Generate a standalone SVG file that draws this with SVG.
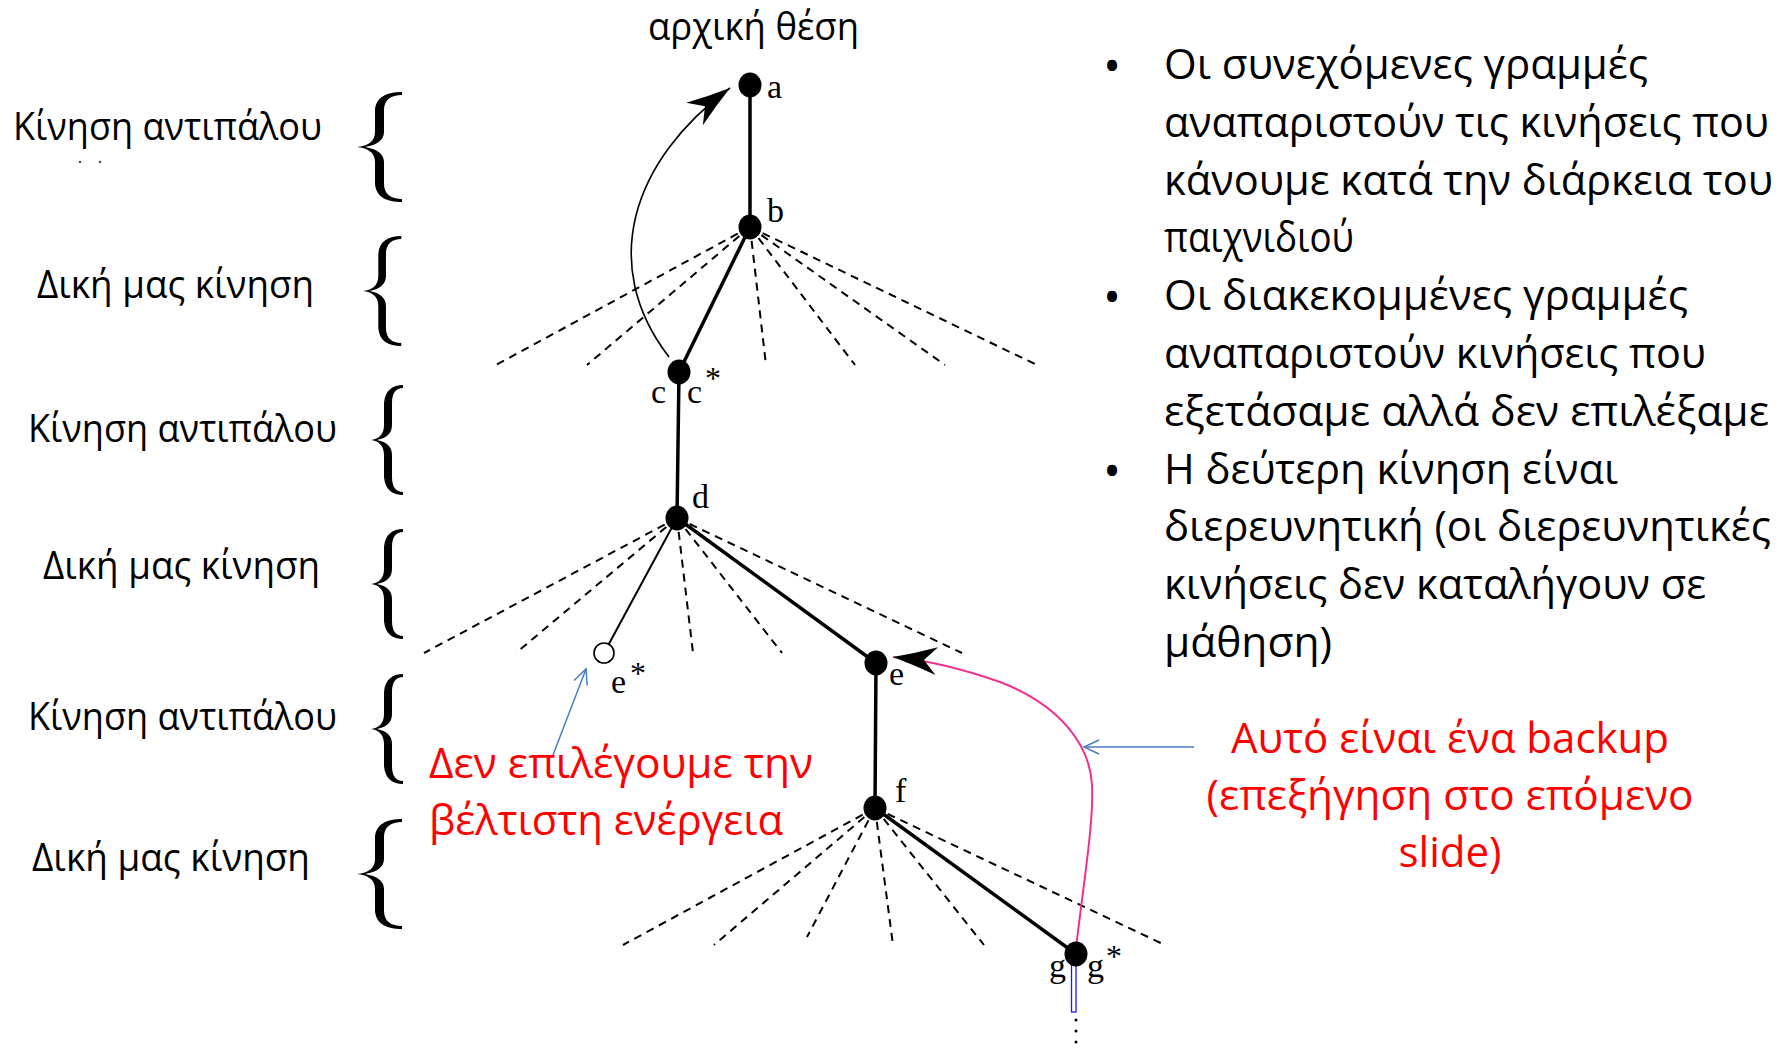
<svg xmlns="http://www.w3.org/2000/svg" xmlns:xlink="http://www.w3.org/1999/xlink" width="1779" height="1048" viewBox="0 0 1779 1048">
  <style>
    .sans { font-family: "Open Sans", "Noto Sans", "DejaVu Sans", sans-serif; fill: #000; }
    .lvl { font-size: 38px; }
    .bul { font-size: 42px; }
    .red { font-size: 42px; fill: #ff0000; }
    .nl { font-family: "Liberation Serif", "Times New Roman", serif; font-size: 34px; fill: #000; }
    .ast { font-size: 32px; }
    .edge { stroke: #000; stroke-width: 3.5; fill: none; stroke-linecap: round; }
    .edge-thin { stroke: #000; stroke-width: 2; fill: none; stroke-linecap: round; }
    .dash { stroke: #000; stroke-width: 2; fill: none; stroke-dasharray: 8 6; }
    .node { fill: #000; }
    .brace { fill: #000; }
    .note { stroke: #4a7cc0; stroke-width: 1.5; fill: none; }
  </style>
  <defs>
    <marker id="stealth" markerUnits="userSpaceOnUse" viewBox="-46 -16 48 32" markerWidth="48" markerHeight="32" refX="0" refY="0" orient="auto">
      <path d="M0,0 Q-22,-6 -44,-14 L-31,0 L-44,14 Q-22,6 0,0 Z" fill="#000"/>
    </marker>
    <marker id="open-blue" markerUnits="userSpaceOnUse" viewBox="-17 -9 19 18" markerWidth="19" markerHeight="18" refX="0" refY="0" orient="auto">
      <path d="M-15,-7 L0,0 L-15,7" fill="none" stroke="#4a7cc0" stroke-width="1.5"/>
    </marker>
    <!-- curly brace, 45 wide x 110 tall, tip at (0,55) -->
    <path id="brace-wide" d="M45,0 C30,0 19,5 18,18 L18,40 C18,50 10,54 0,55 C10,56 18,60 18,70 L18,92 C19,105 30,110 45,110 L45,107 C34,107 27,102 27,92 L27,70 C27,62 20,57 8,55 C20,53 27,48 27,40 L27,18 C27,8 34,3 45,3 Z"/>
    <!-- narrower brace, 32 wide x 110 tall -->
    <path id="brace-narrow" d="M32,0 C22,0 14,5 13,18 L13,40 C13,50 7,54 0,55 C7,56 13,60 13,70 L13,92 C14,105 22,110 32,110 L32,107 C25,107 21,102 21,92 L21,70 C21,62 16,57 6,55 C16,53 21,48 21,40 L21,18 C21,8 25,3 32,3 Z"/>
  </defs>

  <rect width="1779" height="1048" fill="#fff"/>

  <!-- ply labels on the left -->
  <g id="levels">
    <g id="level-1">
      <text class="sans lvl" x="13" y="140" textLength="309" lengthAdjust="spacingAndGlyphs">Κίνηση αντιπάλου</text>
      <circle cx="80" cy="162" r="1.3" fill="#555"/>
      <circle cx="100" cy="162" r="1.3" fill="#555"/>
      <use xlink:href="#brace-wide" class="brace" transform="translate(357,92)"/>
    </g>
    <g id="level-2">
      <text class="sans lvl" x="37" y="298" textLength="277" lengthAdjust="spacingAndGlyphs">Δική μας κίνηση</text>
      <use xlink:href="#brace-wide" class="brace" transform="translate(363,236) scale(0.85,1)"/>
    </g>
    <g id="level-3">
      <text class="sans lvl" x="28" y="442" textLength="309" lengthAdjust="spacingAndGlyphs">Κίνηση αντιπάλου</text>
      <use xlink:href="#brace-narrow" class="brace" transform="translate(371,385)"/>
    </g>
    <g id="level-4">
      <text class="sans lvl" x="43" y="579" textLength="277" lengthAdjust="spacingAndGlyphs">Δική μας κίνηση</text>
      <use xlink:href="#brace-narrow" class="brace" transform="translate(371,529)"/>
    </g>
    <g id="level-5">
      <text class="sans lvl" x="28" y="730" textLength="309" lengthAdjust="spacingAndGlyphs">Κίνηση αντιπάλου</text>
      <use xlink:href="#brace-narrow" class="brace" transform="translate(371,674)"/>
    </g>
    <g id="level-6">
      <text class="sans lvl" x="32" y="871" textLength="278" lengthAdjust="spacingAndGlyphs">Δική μας κίνηση</text>
      <use xlink:href="#brace-wide" class="brace" transform="translate(357,819)"/>
    </g>
  </g>

  <text id="title" class="sans lvl" x="648" y="40" textLength="211" lengthAdjust="spacingAndGlyphs">αρχική θέση</text>

  <!-- edges: solid = moves played, dashed = moves considered -->
  <g id="connectors">
    <g id="dashed-b">
      <line class="dash" x1="750" y1="227" x2="496" y2="365"/>
      <line class="dash" x1="750" y1="227" x2="587" y2="365"/>
      <line class="dash" x1="750" y1="227" x2="766" y2="365"/>
      <line class="dash" x1="750" y1="227" x2="855" y2="365"/>
      <line class="dash" x1="750" y1="227" x2="945" y2="365"/>
      <line class="dash" x1="750" y1="227" x2="1037" y2="365"/>
    </g>
    <g id="dashed-d">
      <line class="dash" x1="677" y1="518" x2="424" y2="653"/>
      <line class="dash" x1="677" y1="518" x2="516" y2="653"/>
      <line class="dash" x1="677" y1="518" x2="693" y2="653"/>
      <line class="dash" x1="677" y1="518" x2="782" y2="653"/>
      <line class="dash" x1="677" y1="518" x2="962" y2="653"/>
    </g>
    <g id="dashed-f">
      <line class="dash" x1="875" y1="808" x2="623" y2="945"/>
      <line class="dash" x1="875" y1="808" x2="714" y2="945"/>
      <line class="dash" x1="875" y1="808" x2="807" y2="937"/>
      <line class="dash" x1="875" y1="808" x2="893" y2="945"/>
      <line class="dash" x1="875" y1="808" x2="984" y2="945"/>
      <line class="dash" x1="875" y1="808" x2="1165" y2="945"/>
    </g>
    <line id="edge-a-b" class="edge" x1="750" y1="85" x2="750" y2="227"/>
    <line id="edge-b-c" class="edge" x1="750" y1="227" x2="679" y2="372"/>
    <line id="edge-c-d" class="edge" x1="679" y1="372" x2="677" y2="518"/>
    <line id="edge-d-e2" class="edge-thin" x1="677" y1="518" x2="604" y2="653"/>
    <line id="edge-d-e" class="edge" x1="677" y1="518" x2="876" y2="663"/>
    <line id="edge-e-f" class="edge" x1="876" y1="663" x2="875" y2="808"/>
    <line id="edge-f-g" class="edge" x1="875" y1="808" x2="1076" y2="954"/>

    <!-- learning update c -> a -->
    <path id="update-c-a" d="M669,357 C598,265 632,160 730,88" fill="none" stroke="#000" stroke-width="1.6" marker-end="url(#stealth)"/>
    <!-- backup g -> e -->
    <path id="backup-g-e" d="M1076,948 C1084,880 1094,820 1092,785 C1090,745 1060,705 1000,682 C960,668 925,660 893,657" fill="none" stroke="#f0308c" stroke-width="2" marker-end="url(#stealth)"/>

    <!-- continuation below g -->
    <rect x="1071.5" y="954" width="4.5" height="58" fill="#fff" stroke="#1a1aff" stroke-width="1.3"/>
    <circle cx="1076" cy="1020" r="1.5" fill="#000"/>
    <circle cx="1076" cy="1031" r="1.5" fill="#000"/>
    <circle cx="1076" cy="1042" r="1.5" fill="#000"/>

    <!-- callout arrows -->
    <line class="note" x1="553" y1="755" x2="586" y2="669" marker-end="url(#open-blue)"/>
    <line class="note" x1="1194" y1="747" x2="1084" y2="747" marker-end="url(#open-blue)"/>
  </g>

  <!-- tree positions -->
  <g id="node-a">
    <ellipse class="node" cx="750" cy="85" rx="11.5" ry="12.5"/>
    <text class="nl" x="767" y="98">a</text>
  </g>
  <g id="node-b">
    <ellipse class="node" cx="750" cy="227" rx="11.5" ry="12.5"/>
    <text class="nl" x="767" y="222">b</text>
  </g>
  <g id="node-c">
    <ellipse class="node" cx="679" cy="372" rx="11.5" ry="12.5"/>
    <text class="nl" x="651" y="403">c</text>
    <text class="nl" x="687" y="403">c</text>
    <text class="nl ast" x="705" y="389">*</text>
  </g>
  <g id="node-d">
    <ellipse class="node" cx="677" cy="518" rx="11.5" ry="12.5"/>
    <text class="nl" x="692" y="508">d</text>
  </g>
  <g id="node-e-star">
    <circle cx="604" cy="653" r="10" fill="#fff" stroke="#000" stroke-width="1.6"/>
    <text class="nl" x="611" y="693">e</text>
    <text class="nl ast" x="630" y="684">*</text>
  </g>
  <g id="node-e">
    <ellipse class="node" cx="876" cy="663" rx="11.5" ry="12.5"/>
    <text class="nl" x="889" y="685">e</text>
  </g>
  <g id="node-f">
    <ellipse class="node" cx="875" cy="808" rx="11.5" ry="12.5"/>
    <text class="nl" x="895" y="802">f</text>
  </g>
  <g id="node-g">
    <ellipse class="node" cx="1076" cy="954" rx="11.5" ry="12.5"/>
    <text class="nl" x="1049" y="977">g</text>
    <text class="nl" x="1087" y="977">g</text>
    <text class="nl ast" x="1106" y="967">*</text>
  </g>

  <!-- annotations -->
  <g id="note-left">
    <text class="sans red" x="429" y="778" textLength="384" lengthAdjust="spacingAndGlyphs">Δεν επιλέγουμε την</text>
    <text class="sans red" x="429" y="835" textLength="354" lengthAdjust="spacingAndGlyphs">βέλτιστη ενέργεια</text>
  </g>
  <g id="note-right">
    <text class="sans red" x="1450" y="753" text-anchor="middle" textLength="438" lengthAdjust="spacingAndGlyphs">Αυτό είναι ένα backup</text>
    <text class="sans red" x="1450" y="810" text-anchor="middle" textLength="487" lengthAdjust="spacingAndGlyphs">(επεξήγηση στο επόμενο</text>
    <text class="sans red" x="1450" y="867" text-anchor="middle" textLength="103" lengthAdjust="spacingAndGlyphs">slide)</text>
  </g>

  <g id="bullets">
    <text class="sans" x="1112" y="83" font-size="48" text-anchor="middle" font-family="Liberation Sans, sans-serif">•</text>
    <text class="sans" x="1112" y="314" font-size="48" text-anchor="middle" font-family="Liberation Sans, sans-serif">•</text>
    <text class="sans" x="1112" y="488" font-size="48" text-anchor="middle" font-family="Liberation Sans, sans-serif">•</text>
    <text class="sans bul" x="1164" y="79" textLength="484" lengthAdjust="spacingAndGlyphs">Οι συνεχόμενες γραμμές</text>
    <text class="sans bul" x="1164" y="136.8" textLength="605" lengthAdjust="spacingAndGlyphs">αναπαριστούν τις κινήσεις που</text>
    <text class="sans bul" x="1164" y="194.6" textLength="609" lengthAdjust="spacingAndGlyphs">κάνουμε κατά την διάρκεια του</text>
    <text class="sans bul" x="1164" y="252.4" textLength="190" lengthAdjust="spacingAndGlyphs">παιχνιδιού</text>
    <text class="sans bul" x="1164" y="310.2" textLength="524" lengthAdjust="spacingAndGlyphs">Οι διακεκομμένες γραμμές</text>
    <text class="sans bul" x="1164" y="368" textLength="542" lengthAdjust="spacingAndGlyphs">αναπαριστούν κινήσεις που</text>
    <text class="sans bul" x="1164" y="425.8" textLength="605" lengthAdjust="spacingAndGlyphs">εξετάσαμε αλλά δεν επιλέξαμε</text>
    <text class="sans bul" x="1164" y="483.6" textLength="454" lengthAdjust="spacingAndGlyphs">Η δεύτερη κίνηση είναι</text>
    <text class="sans bul" x="1164" y="541.4" textLength="607" lengthAdjust="spacingAndGlyphs">διερευνητική (οι διερευνητικές</text>
    <text class="sans bul" x="1164" y="599.2" textLength="542" lengthAdjust="spacingAndGlyphs">κινήσεις δεν καταλήγουν σε</text>
    <text class="sans bul" x="1164" y="657" textLength="168" lengthAdjust="spacingAndGlyphs">μάθηση)</text>
  </g>
</svg>
